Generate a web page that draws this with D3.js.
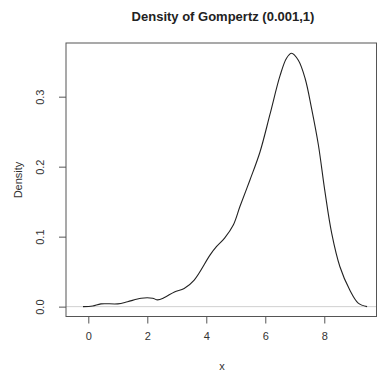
<!DOCTYPE html>
<html><head><meta charset="utf-8">
<script src="https://cdn.jsdelivr.net/npm/d3@7"></script>
<style>body{margin:0;background:#fff}svg{display:block}</style>
</head><body>
<script>
const xs = [-0.18, 0.15, 0.43, 1.0, 1.33, 1.79, 2.18, 2.35, 2.58, 2.92, 3.25, 3.59, 4.13, 4.35, 4.62, 4.92, 5.14, 5.48, 5.82, 6.16, 6.50, 6.72, 6.89, 7.12, 7.35, 7.57, 7.80, 8.02, 8.25, 8.53, 8.86, 9.15, 9.45];
const ys = [0, 0.001, 0.004, 0.004, 0.007, 0.012, 0.012, 0.0096, 0.013, 0.021, 0.026, 0.038, 0.074, 0.086, 0.098, 0.117, 0.143, 0.181, 0.221, 0.275, 0.330, 0.355, 0.362, 0.352, 0.326, 0.283, 0.231, 0.165, 0.105, 0.057, 0.024, 0.005, 0.0];
const xTicks = [0, 2, 4, 6, 8];
const yTicks = [0.0, 0.1, 0.2, 0.3];
const title = "Density of Gompertz (0.001,1)";
const xLabel = "x";
const yLabel = "Density";

const W = 377, H = 372;
const L = 66, R = 376.5, T = 43, B = 316.5;
const svg = d3.select("body").append("svg").attr("width", W).attr("height", H)
  .style("font-family", "'Liberation Sans', Arial, sans-serif");

const x = d3.scaleLinear().domain([-0.756, 9.78]).range([L, R + 0.3]);
const y = d3.scaleLinear().domain([-0.0141, 0.3767]).range([B, T]);

// zero line
svg.append("line").attr("x1", L).attr("x2", R).attr("y1", y(0)).attr("y2", y(0))
  .attr("stroke", "#d0d0d0").attr("stroke-width", 1);

// curve
const data = xs.map((v, i) => [v, ys[i]]);
svg.append("path").datum(data)
  .attr("d", d3.line().x(d => x(d[0])).y(d => y(d[1])).curve(d3.curveCatmullRom.alpha(0.5)))
  .attr("fill", "none").attr("stroke", "#222").attr("stroke-width", 1.1);

// box
svg.append("rect").attr("x", L).attr("y", T).attr("width", R - L).attr("height", B - T)
  .attr("fill", "none").attr("stroke", "#555").attr("stroke-width", 1);

// x axis
const xa = svg.append("g").attr("transform", `translate(0,${B})`)
  .call(d3.axisBottom(x).tickValues(xTicks).tickSize(7).tickPadding(9).tickFormat(d3.format("d")));
xa.select(".domain").remove();
xa.selectAll("line").attr("stroke", "#555");
xa.selectAll("text").attr("font-size", 11).attr("fill", "#333").attr("font-family", "'Liberation Sans', Arial, sans-serif");

// y axis
const ya = svg.append("g").attr("transform", `translate(${L},0)`)
  .call(d3.axisLeft(y).tickValues(yTicks).tickSize(7).tickFormat(d3.format(".1f")));
ya.select(".domain").remove();
ya.selectAll("line").attr("stroke", "#555");
ya.selectAll("text").attr("font-size", 11).attr("fill", "#333")
  .attr("font-family", "'Liberation Sans', Arial, sans-serif")
  .attr("text-anchor", "middle").attr("x", 0).attr("dy", 0)
  .attr("transform", d => `translate(${40 - L + 4},${0}) rotate(-90)`);

// title
svg.append("text").attr("x", 223).attr("y", 21).attr("text-anchor", "middle")
  .attr("font-size", 13).attr("font-weight", "bold").attr("fill", "#222").text(title);
svg.append("text").attr("x", 222).attr("y", 370).attr("text-anchor", "middle")
  .attr("font-size", 11).attr("fill", "#333").text(xLabel);
svg.append("text").attr("transform", "translate(22,180) rotate(-90)").attr("text-anchor", "middle")
  .attr("font-size", 11).attr("fill", "#333").text(yLabel);
</script>
</body></html>
